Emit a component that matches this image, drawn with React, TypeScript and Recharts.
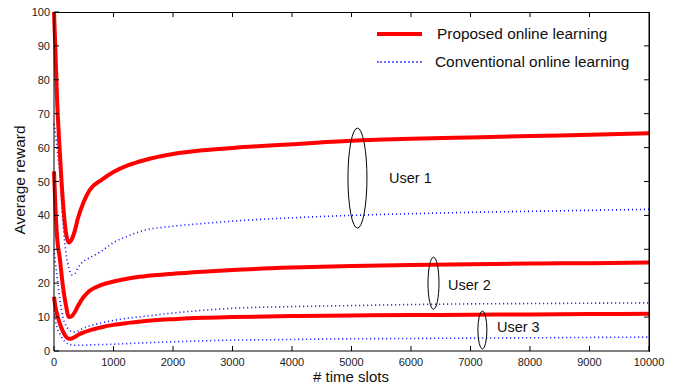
import React from 'react';
import { LineChart, Line, XAxis, YAxis, ReferenceDot } from 'recharts';

const slots = [0, 25, 50, 100, 150, 200, 250, 300, 350, 400, 500, 600, 800, 1000, 1250, 1500, 2000, 2500, 3000, 4000, 5000, 6000, 7000, 8000, 9000, 10000];

const user1Proposed = [100, 88, 75, 58, 44, 35, 32, 33, 35.5, 39, 44, 47.5, 50.5, 52.8, 54.8, 56.2, 58.1, 59.2, 59.9, 61, 62, 62.6, 63, 63.4, 63.8, 64.2];
const user1Conventional = [67, 64, 60, 52, 38, 29, 24.5, 22.5, 22.8, 24.5, 26.5, 27.5, 29.5, 32, 34, 35.5, 36.8, 37.6, 38.3, 39.3, 40, 40.5, 40.9, 41.2, 41.5, 41.8];
const user2Proposed = [53, 42, 34, 27, 19, 13.5, 10, 10.3, 11.5, 13.2, 16, 17.8, 19.5, 20.5, 21.4, 22, 22.8, 23.4, 23.9, 24.6, 25.1, 25.4, 25.6, 25.8, 25.9, 26.1];
const user2Conventional = [30, 26, 22, 15, 10, 7.5, 6.3, 5.7, 5.6, 5.9, 6.8, 7.4, 8.3, 9, 9.7, 10.2, 11.2, 12, 12.6, 13.1, 13.4, 13.7, 13.9, 14, 14.1, 14.2];
const user3Proposed = [16, 13, 11, 8, 5.8, 4.3, 3.6, 3.7, 4.1, 4.7, 5.5, 6.1, 7, 7.7, 8.3, 8.8, 9.4, 9.8, 10, 10.3, 10.5, 10.6, 10.7, 10.8, 10.9, 11];
const user3Conventional = [12, 9, 7, 5, 3.5, 2.5, 2, 1.8, 1.7, 1.7, 1.7, 1.8, 1.9, 2, 2.2, 2.4, 2.7, 3, 3.2, 3.4, 3.6, 3.7, 3.8, 3.9, 4, 4.1];

const xTicks = [0, 1000, 2000, 3000, 4000, 5000, 6000, 7000, 8000, 9000, 10000];
const yTicks = [0, 10, 20, 30, 40, 50, 60, 70, 80, 90, 100];

// annotation ellipses and their user labels
const userNames = ['User 1', 'User 2', 'User 3'];
const ellipseX = [5100, 6378, 7200];
const ellipseY = [51, 20, 6.2];
const ellipseRx = [9.5, 5.5, 4.5];
const ellipseRy = [50, 26, 19];
const labelX = [5630, 6622, 7445];
const labelY = [51, 19.5, 7.1];

const data = slots.map((t, i) => ({
  t,
  p1: user1Proposed[i],
  c1: user1Conventional[i],
  p2: user2Proposed[i],
  c2: user2Conventional[i],
  p3: user3Proposed[i],
  c3: user3Conventional[i],
}));

const FONT = '"Liberation Sans", Arial, Helvetica, sans-serif';
const RED = '#ff0000';
const BLUE = '#0000ff';

const BottomTick = ({ x, y, payload }: any) => (
  <g>
    <line x1={x} y1={y} x2={x} y2={y - 5} stroke="#000" />
    <text x={x} y={y + 15} textAnchor="middle" fontSize={11} fontFamily={FONT} fill="#222">
      {payload.value}
    </text>
  </g>
);
const LeftTick = ({ x, y, payload }: any) => (
  <g>
    <line x1={x} y1={y} x2={x + 5} y2={y} stroke="#000" />
    <text x={x - 4} y={y + 4} textAnchor="end" fontSize={11} fontFamily={FONT} fill="#222">
      {payload.value}
    </text>
  </g>
);
const RightTick = ({ x, y }: any) => <line x1={x} y1={y} x2={x - 5} y2={y} stroke="#000" />;
// top tick: the dot sits on the upper frame edge, the mark hangs inward
const TopTickShape = (p: any) => <line x1={p.cx} y1={p.cy} x2={p.cx} y2={p.cy + 5} stroke="#000" />;

const proposedKeys = ['p1', 'p2', 'p3'];
const conventionalKeys = ['c1', 'c2', 'c3'];

export default function App() {
  return (
    <div style={{ position: 'absolute', left: 0, top: 0, width: 679, height: 387, background: '#fff', fontFamily: FONT }}>
      <LineChart width={679} height={387} data={data} margin={{ top: 12, right: 29, left: 0, bottom: 0 }}>
        <XAxis
          dataKey="t"
          type="number"
          domain={[0, 10000]}
          ticks={xTicks}
          height={36}
          tickSize={0}
          tickMargin={0}
          tickLine={false}
          tick={<BottomTick />}
          axisLine={{ stroke: '#000' }}
        />
        <YAxis
          type="number"
          domain={[0, 100]}
          ticks={yTicks}
          width={54}
          tickSize={0}
          tickMargin={0}
          tickLine={false}
          tick={<LeftTick />}
          axisLine={{ stroke: '#000' }}
        />
        <YAxis
          yAxisId="right"
          orientation="right"
          type="number"
          domain={[0, 100]}
          ticks={yTicks.slice(1, -1)}
          width={1}
          tickSize={0}
          tickMargin={0}
          tickLine={false}
          tick={<RightTick />}
          axisLine={{ stroke: '#000' }}
        />
        {/* invisible copy so the right frame axis gets its ticks */}
        <Line
          yAxisId="right"
          dataKey="p1"
          stroke="none"
          dot={false}
          activeDot={false}
          legendType="none"
          isAnimationActive={false}
        />
        {xTicks.slice(1, -1).map((t) => (
          <ReferenceDot key={'tt' + t} x={t} y={100} shape={TopTickShape} />
        ))}
        {conventionalKeys.map((k) => (
          <Line
            key={k}
            dataKey={k}
            type="monotone"
            stroke={BLUE}
            strokeWidth={1.6}
            strokeDasharray="1 3"
            dot={false}
            isAnimationActive={false}
          />
        ))}
        {proposedKeys.map((k) => (
          <Line
            key={k}
            dataKey={k}
            type="monotone"
            stroke={RED}
            strokeWidth={4}
            dot={false}
            isAnimationActive={false}
          />
        ))}
        {userNames.map((name, i) => (
          <ReferenceDot
            key={'e' + name}
            x={ellipseX[i]}
            y={ellipseY[i]}
            shape={(p: any) => (
              <ellipse cx={p.cx} cy={p.cy} rx={ellipseRx[i]} ry={ellipseRy[i]} fill="none" stroke="#000" strokeWidth={1} />
            )}
          />
        ))}
        {userNames.map((name, i) => (
          <ReferenceDot
            key={'l' + name}
            x={labelX[i]}
            y={labelY[i]}
            shape={(p: any) => (
              <text x={p.cx} y={p.cy + 5} fontSize={14.5} fontFamily={FONT} fill="#111">
                {name}
              </text>
            )}
          />
        ))}
      </LineChart>

      {/* plot frame: top and right edges only */}
      <div
        style={{
          position: 'absolute',
          left: 54,
          top: 11.5,
          width: 595.5,
          height: 340,
          borderTop: '1px solid #000',
          borderRight: '1px solid #000',
          boxSizing: 'border-box',
          pointerEvents: 'none',
        }}
      />

      {/* legend */}
      <div style={{ position: 'absolute', left: 377, top: 24, fontSize: 15.4, color: '#111', lineHeight: '20px' }}>
        <div style={{ display: 'flex', alignItems: 'center', height: 20 }}>
          <div style={{ width: 45, height: 0, borderTop: `4px solid ${RED}`, marginRight: 15 }} />
          <span>Proposed online learning</span>
        </div>
        <div style={{ display: 'flex', alignItems: 'center', height: 20, marginTop: 8 }}>
          <div style={{ width: 45, height: 0, borderTop: `2px dotted #7070ff`, marginRight: 13 }} />
          <span>Conventional online learning</span>
        </div>
      </div>

      {/* axis titles */}
      <div
        style={{
          position: 'absolute',
          left: 20,
          top: 180,
          fontSize: 15.5,
          color: '#111',
          transform: 'translate(-50%, -50%) rotate(-90deg)',
          whiteSpace: 'nowrap',
        }}
      >
        Average reward
      </div>
      <div style={{ position: 'absolute', left: 351, top: 368, fontSize: 15, color: '#111', transform: 'translateX(-50%)', whiteSpace: 'nowrap' }}>
        # time slots
      </div>
    </div>
  );
}
